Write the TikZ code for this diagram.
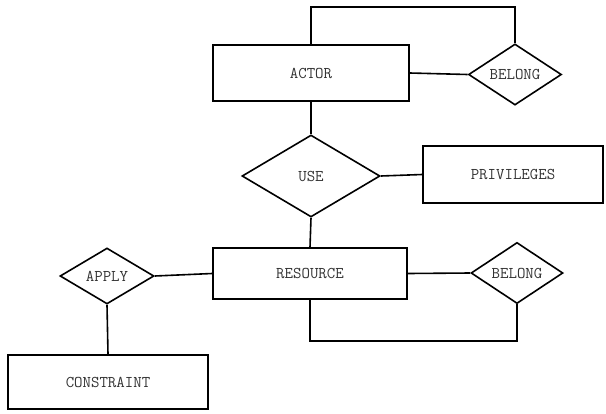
\documentclass[tikz,border=0pt]{standalone}
\usetikzlibrary{shapes.geometric}
\begin{document}
\begin{tikzpicture}[x=1pt,y=-1pt,
  every node/.style={font=\ttfamily\fontsize{16.4}{18}\selectfont, text=black!80},
  entity/.style={draw=black, line width=1.6pt, rectangle, inner sep=0pt},
  rel/.style={draw=black, line width=1.6pt, diamond, inner sep=0pt},
  conn/.style={draw=black, line width=1.6pt}]
\useasboundingbox (0,0) rectangle (606,413);
\node[entity, minimum width=196pt, minimum height=56pt] (actor) at (311,73) {ACTOR};
\node[rel, minimum width=93pt, minimum height=55pt] (belongA) at (515,74.5) {BELONG};
\node[rel, minimum width=138pt, minimum height=82pt] (use) at (311,176) {USE};
\node[entity, minimum width=180pt, minimum height=57pt] (priv) at (513,174.5) {PRIVILEGES};
\node[entity, minimum width=194pt, minimum height=51pt] (resource) at (310,273.5) {RESOURCE};
\node[rel, minimum width=92pt, minimum height=56pt] (belongB) at (517,273) {BELONG};
\node[rel, minimum width=94pt, minimum height=56pt] (apply) at (107,276) {APPLY};
\node[entity, minimum width=200pt, minimum height=54pt] (constraint) at (108,382) {CONSTRAINT};
\coordinate (topy) at (0,7);
\coordinate (boty) at (0,341);
\draw[conn] (actor.north) -- (actor.north |- topy) -| (belongA.north);
\draw[conn] (actor.east) -- (belongA.west);
\draw[conn] (actor.south) -- (use.north);
\draw[conn] (use.east) -- (priv.west);
\draw[conn] (use.south) -- (resource.north);
\draw[conn] (resource.east) -- (belongB.west);
\draw[conn] (resource.south) -- (resource.south |- boty) -| (belongB.south);
\draw[conn] (apply.east) -- (resource.west);
\draw[conn] (apply.south) -- (constraint.north);
\end{tikzpicture}
\end{document}
